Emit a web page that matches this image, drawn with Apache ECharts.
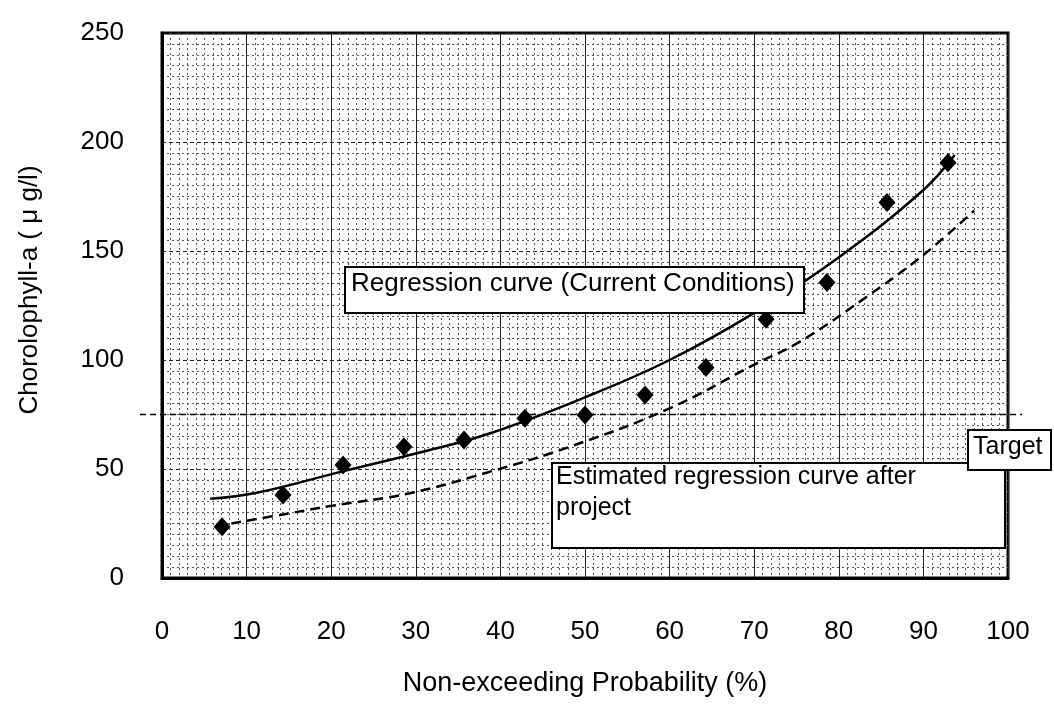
<!DOCTYPE html>
<html>
<head>
<meta charset="utf-8">
<script src="https://cdn.jsdelivr.net/npm/echarts@6/dist/echarts.min.js"></script>
<style>html,body{margin:0;padding:0;background:#fff;}#c{width:1054px;height:706px;}</style>
</head>
<body>
<div id="c"></div>
<script>
// Observed points (non-exceeding probability %, chlorophyll-a µg/l)
var obsX = [7.1, 14.3, 21.4, 28.6, 35.7, 42.9, 50.0, 57.1, 64.3, 71.4, 78.6, 85.7, 92.9];
var obsY = [23.5, 38.1, 51.8, 60.2, 63.3, 73.3, 74.8, 83.9, 96.6, 118.7, 135.5, 172.2, 190.5];
// Regression curve (current conditions)
var curX = [5.7, 11.2, 21.2, 30.1, 38.8, 50.2, 60.0, 69.9, 80.1, 90.0, 93.7];
var curY = [36.3, 39.1, 48.8, 57.2, 66.4, 83.2, 100.0, 121.4, 147.4, 178.0, 194.0];
// Estimated regression curve after project
var aftX = [8.2, 15.1, 19.9, 29.3, 38.8, 48.2, 60.0, 70.3, 75.4, 83.3, 90.0, 96.0];
var aftY = [25.0, 29.7, 33.0, 38.9, 48.8, 60.2, 77.8, 98.5, 108.4, 129.0, 148.2, 168.5];
var targetValue = 75;
var xTicks = [0, 100, 10];
var yTicks = [0, 250, 50];

function pairs(xs, ys) { return xs.map(function (v, i) { return [v, ys[i]]; }); }

var FONT = '"Liberation Sans", Arial, sans-serif';
var chart = echarts.init(document.getElementById('c'), null, { renderer: 'canvas' });
chart.setOption({
  backgroundColor: '#fff',
  animation: false,
  grid: { left: 162, right: 46, top: 33, bottom: 128, show: true, borderColor: '#000', borderWidth: 3, backgroundColor: 'transparent' },
  xAxis: {
    type: 'value', min: xTicks[0], max: xTicks[1], interval: xTicks[2],
    name: 'Non-exceeding Probability (%)', nameLocation: 'middle', nameGap: 92,
    nameTextStyle: { fontFamily: FONT, fontSize: 27, color: '#000' },
    axisLine: { show: true, lineStyle: { color: '#000', width: 3 } },
    axisTick: { show: false },
    axisLabel: { margin: 41, fontFamily: FONT, fontSize: 26, color: '#000' },
    splitLine: { show: true, lineStyle: { color: '#222', width: 1 } },
    minorTick: { show: false, splitNumber: 10 },
    minorSplitLine: { show: true, lineStyle: { color: '#555', width: 1, type: [2, 3] } }
  },
  yAxis: {
    type: 'value', min: yTicks[0], max: yTicks[1], interval: yTicks[2],
    axisLine: { show: true, lineStyle: { color: '#000', width: 3 } },
    axisTick: { show: false },
    axisLabel: { margin: 38, fontFamily: FONT, fontSize: 26, color: '#000' },
    splitLine: { show: true, lineStyle: { color: '#222', width: 1, type: [4, 3] } },
    minorTick: { show: false, splitNumber: 10 },
    minorSplitLine: { show: true, lineStyle: { color: '#555', width: 1, type: [2, 3] } }
  },
  series: [
    {
      name: 'Regression curve (Current Conditions)', type: 'line', data: pairs(curX, curY),
      smooth: 0.4, showSymbol: false, symbol: 'none',
      lineStyle: { color: '#000', width: 2.5 }, z: 3
    },
    {
      name: 'Estimated regression curve after project', type: 'line', data: pairs(aftX, aftY),
      smooth: 0.4, showSymbol: false, symbol: 'none',
      lineStyle: { color: '#000', width: 2.5, type: [10, 6] }, z: 3
    },
    {
      name: 'Observed', type: 'scatter', data: pairs(obsX, obsY),
      symbol: 'diamond', symbolSize: [17, 19],
      itemStyle: { color: '#000', opacity: 1 }, z: 4
    }
  ]
});

var ty = chart.convertToPixel({ gridIndex: 0 }, [0, targetValue])[1];
chart.setOption({
  graphic: [
    { type: 'line', z: 50, shape: { x1: 140, y1: ty, x2: 1022, y2: ty }, style: { stroke: '#000', lineWidth: 1.5, lineDash: [6, 4] } },
    { type: 'rect', z: 60, shape: { x: 345, y: 267, width: 459, height: 46 }, style: { fill: '#fff', stroke: '#000', lineWidth: 2 } },
    { type: 'text', z: 61, x: 351, y: 284, style: { text: 'Regression curve (Current Conditions)', font: '26px ' + FONT, fill: '#000', textVerticalAlign: 'middle' } },
    { type: 'rect', z: 60, shape: { x: 552, y: 463, width: 453, height: 85 }, style: { fill: '#fff', stroke: '#000', lineWidth: 2 } },
    { type: 'text', z: 61, x: 556, y: 462, style: { text: 'Estimated regression curve after\nproject', font: '25px ' + FONT, lineHeight: 31, fill: '#000', textVerticalAlign: 'top' } },
    { type: 'rect', z: 60, shape: { x: 968, y: 430, width: 83, height: 40 }, style: { fill: '#fff', stroke: '#000', lineWidth: 2 } },
    { type: 'text', z: 61, x: 973, y: 447, style: { text: 'Target', font: '25px ' + FONT, fill: '#000', textVerticalAlign: 'middle' } },
    { type: 'text', z: 61, x: 30, y: 290, rotation: Math.PI / 2, style: { text: 'Chorolophyll-a ( μ g/l)', font: '26px ' + FONT, fill: '#000', textAlign: 'center', textVerticalAlign: 'middle' } }
  ]
});
</script>
</body>
</html>
